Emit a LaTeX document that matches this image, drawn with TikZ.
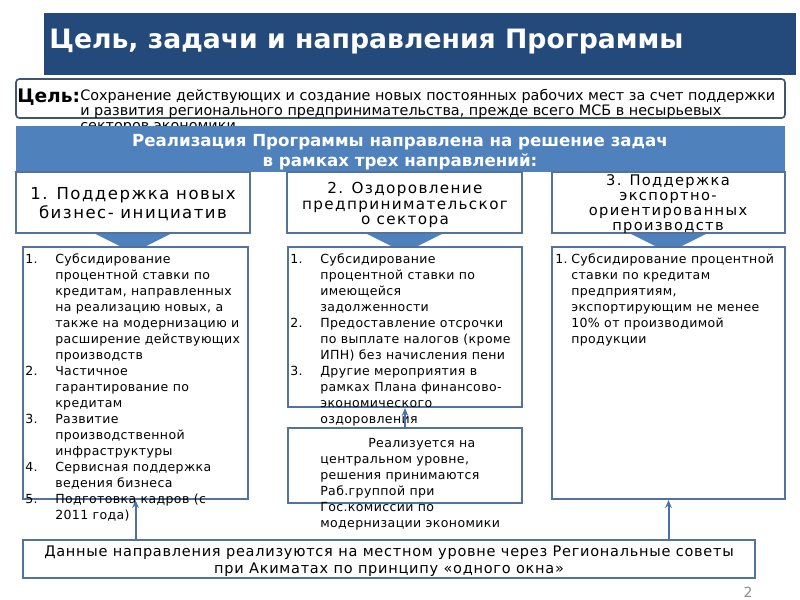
\documentclass[tikz,border=0pt]{standalone}
\usepackage{fontspec}
\setmainfont{DejaVu Sans}
\newfontfamily\pgheadfont[LetterSpace=9]{DejaVu Sans}
\newfontfamily\pglistfont[LetterSpace=3]{DejaVu Sans}
\newfontfamily\pgimplfont[LetterSpace=5]{DejaVu Sans}
\usetikzlibrary{arrows.meta,fit}
\definecolor{pgnavy}{HTML}{24497B}
\definecolor{pgblue}{HTML}{4F81BD}
\definecolor{pgframe}{HTML}{53739B}
\definecolor{pgedgec}{HTML}{4A70AE}
\definecolor{pggoalframe}{HTML}{3E5672}
\tikzset{
  pgbanner/.style={fill=pgnavy, inner sep=0pt},
  pgtitle/.style={text=white, font=\fontsize{20}{24}\selectfont\bfseries, inner sep=0pt},
  pggoalbox/.style={draw=pggoalframe, fill=white, line width=1.2pt, rounded corners=2.5pt, inner sep=0pt},
  pggoallabel/.style={font=\fontsize{14}{16}\selectfont\bfseries, inner sep=0pt},
  pggoaltext/.style={font=\fontsize{10.8}{11.25}\selectfont, inner sep=0pt},
  pgband/.style={fill=pgblue, inner sep=0pt},
  pgbandtext/.style={text=white, font=\fontsize{12.5}{15}\selectfont\bfseries, align=center, inner sep=0pt},
  pghead/.style={draw=pgframe, fill=white, line width=1.5pt, inner sep=0pt},
  pgheadtext/.style={align=center, inner sep=0pt},
  pgchevron/.style={fill=pgblue},
  pgbox/.style={draw=pgframe, fill=white, line width=1.5pt, inner sep=0pt},
  pglist/.style={font=\pglistfont\fontsize{9.4}{12}\selectfont, inner sep=0pt, anchor=base west},
  pgimpltext/.style={align=center, inner sep=0pt, font=\pgimplfont\fontsize{10.9}{12.75}\selectfont},
  pgedge/.style={-{Stealth[length=6pt,width=5pt]}, draw=pgedgec, line width=1.5pt},
  pgpage/.style={text=black!45, font=\fontsize{10.5}{12}\selectfont, inner sep=0pt}
}

\begin{document}
\begin{tikzpicture}[x=0.75pt,y=-0.75pt]
\useasboundingbox (0,0) rectangle (800,600);
% banner, goal and the band over the three directions
\node[pgbanner, fit={(44,13) (796,75)}] (banner) {};
\node[pgtitle, anchor=base west] (title) at (49,48) {Цель, задачи и направления Программы};
\node[pggoalbox, fit={(16,79) (785,118)}] (goal) {};
\node[pggoaltext, anchor=base west] (goaltext) at (80,100) {\begin{tabular}[t]{@{}l@{}}
  Сохранение действующих и создание новых постоянных рабочих мест за счет поддержки\\
  и развития регионального предпринимательства, прежде всего МСБ в несырьевых\\
  секторов экономики
\end{tabular}};
\node[pggoallabel, anchor=base west] (goallabel) at (17,102) {Цель:};
\node[pgband, fit={(16,126) (785,172)}] (band) {};
\node[pgbandtext] (bandtext) at (400,152.5) {Реализация Программы направлена на решение задач\\в рамках трех направлений:};

\node[pghead, fit={(16,172) (250,233)}] (hdr1) {};
\node[pghead, fit={(287,172) (522,233)}] (hdr2) {};
\node[pghead, fit={(552,172) (785,233)}] (hdr3) {};
\node[pgheadtext, font=\pgheadfont\fontsize{12.4}{14.25}\selectfont] (hdr1text) at (133,204) {1. Поддержка новых\\бизнес- инициатив};
\node[pgheadtext, font=\pgheadfont\fontsize{11.4}{11.9}\selectfont] (hdr2text) at (405,205) {2. Оздоровление\\предпринимательског\\о сектора};
\node[pgheadtext, font=\pgheadfont\fontsize{11}{11.25}\selectfont] (hdr3text) at (668,204) {3. Поддержка\\экспортно-\\ориентированных\\производств};
\foreach \h in {hdr1,hdr2,hdr3}
  \fill[pgchevron] ([xshift=-28pt]\h.south) -- ([xshift=28pt]\h.south) -- ([yshift=-14pt]\h.south) -- cycle;

\node[pgbox, fit={(23,247) (248,499)}] (box1) {};
\node[pgbox, fit={(288,247) (522,407)}] (box2) {};
\node[pgbox, fit={(552,247) (785,499)}] (box3) {};
\node[pgbox, fit={(288,428) (522,503)}] (note) {};

\node[pglist] (list1) at (25,263) {\begin{tabular}[t]{@{}p{22.5pt}@{}l@{}}
  1. & Субсидирование\\
     & процентной ставки по\\
     & кредитам, направленных\\
     & на реализацию новых, а\\
     & также на модернизацию и\\
     & расширение действующих\\
     & производств\\
  2. & Частичное\\
     & гарантирование по\\
     & кредитам\\
  3. & Развитие\\
     & производственной\\
     & инфраструктуры\\
  4. & Сервисная поддержка\\
     & ведения бизнеса\\
  5. & Подготовка кадров (с\\
     & 2011 года)
\end{tabular}};
\node[pglist] (list2) at (290,263) {\begin{tabular}[t]{@{}p{22.5pt}@{}l@{}}
  1. & Субсидирование\\
     & процентной ставки по\\
     & имеющейся\\
     & задолженности\\
  2. & Предоставление отсрочки\\
     & по выплате налогов (кроме\\
     & ИПН) без начисления пени\\
  3. & Другие мероприятия в\\
     & рамках Плана финансово-\\
     & экономического\\
     & оздоровления
\end{tabular}};
\node[pglist] (list3) at (555,263) {\begin{tabular}[t]{@{}p{12pt}@{}l@{}}
  1. & Субсидирование процентной\\
     & ставки по кредитам\\
     & предприятиям,\\
     & экспортирующим не менее\\
     & 10\% от производимой\\
     & продукции
\end{tabular}};
\node[pglist] (notetext) at (320,447) {\begin{tabular}[t]{@{}l@{}}
  \hspace*{36pt}Реализуется на\\
  центральном уровне,\\
  решения принимаются\\
  Раб.группой при\\
  Гос.комиссии по\\
  модернизации экономики
\end{tabular}};

\node[pgbox, fit={(23,540) (755,578)}] (impl) {};
\node[pgimpltext] (impltext) at (389,561) {Данные направления реализуются на местном уровне через Региональные советы\\при Акиматах по принципу «одного окна»};
\draw[pgedge] (impl.north -| box1.south) -- (box1.south);
\draw[pgedge] (impl.north -| box3.south) -- (box3.south);
\draw[pgedge] (note.north) -- (box2.south);

\node[pgpage] (page) at (748,592) {2};
\end{tikzpicture}
\end{document}
